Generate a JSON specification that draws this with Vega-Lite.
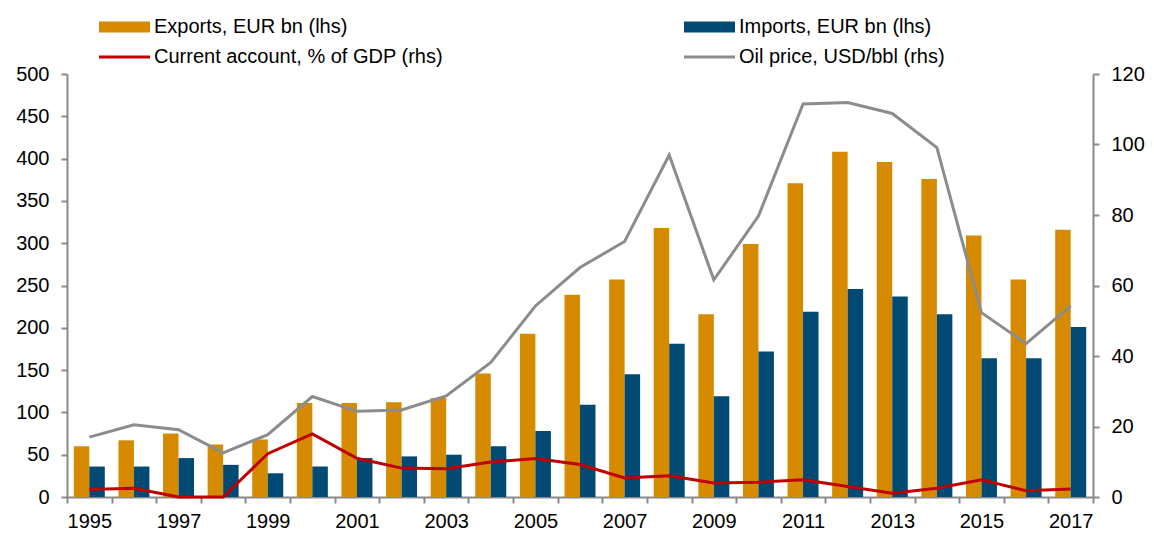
{
  "$schema": "https://vega.github.io/schema/vega-lite/v6.json",
  "width": 1026,
  "height": 423,
  "autosize": {"type": "none"},
  "padding": {"left": 67, "top": 74, "right": 61, "bottom": 36},
  "background": "white",
  "config": {
    "view": {"stroke": null},
    "font": "Liberation Sans",
    "axis": {
      "domainColor": "#8a8a8a",
      "domainWidth": 2,
      "tickColor": "#8a8a8a",
      "tickWidth": 2,
      "tickSize": 6,
      "labelFont": "Liberation Sans",
      "labelFontSize": 20,
      "labelColor": "#000000",
      "grid": false,
      "title": null
    }
  },
  "data": {
    "values": [
      {"year": 1995, "exports": 60, "imports": 36, "ca": 2.1, "oil": 17.0},
      {"year": 1996, "exports": 67, "imports": 36, "ca": 2.5, "oil": 20.5},
      {"year": 1997, "exports": 75, "imports": 46, "ca": 0.0, "oil": 19.1},
      {"year": 1998, "exports": 62, "imports": 38, "ca": 0.0, "oil": 12.5},
      {"year": 1999, "exports": 68, "imports": 28, "ca": 12.3, "oil": 17.7},
      {"year": 2000, "exports": 111, "imports": 36, "ca": 17.9, "oil": 28.5},
      {"year": 2001, "exports": 111, "imports": 46, "ca": 11.0, "oil": 24.3},
      {"year": 2002, "exports": 112, "imports": 48, "ca": 8.2, "oil": 24.7},
      {"year": 2003, "exports": 117, "imports": 50, "ca": 8.0, "oil": 28.7},
      {"year": 2004, "exports": 146, "imports": 60, "ca": 9.9, "oil": 38.2},
      {"year": 2005, "exports": 193, "imports": 78, "ca": 10.9, "oil": 54.2},
      {"year": 2006, "exports": 239, "imports": 109, "ca": 9.2, "oil": 65.1},
      {"year": 2007, "exports": 257, "imports": 145, "ca": 5.4, "oil": 72.5},
      {"year": 2008, "exports": 318, "imports": 181, "ca": 6.0, "oil": 97.0},
      {"year": 2009, "exports": 216, "imports": 119, "ca": 4.0, "oil": 61.6},
      {"year": 2010, "exports": 299, "imports": 172, "ca": 4.2, "oil": 79.7},
      {"year": 2011, "exports": 371, "imports": 219, "ca": 4.9, "oil": 111.5},
      {"year": 2012, "exports": 408, "imports": 246, "ca": 3.0, "oil": 111.9},
      {"year": 2013, "exports": 396, "imports": 237, "ca": 1.1, "oil": 108.8},
      {"year": 2014, "exports": 376, "imports": 216, "ca": 2.5, "oil": 99.1},
      {"year": 2015, "exports": 309, "imports": 164, "ca": 4.9, "oil": 52.3},
      {"year": 2016, "exports": 257, "imports": 164, "ca": 1.8, "oil": 43.5},
      {"year": 2017, "exports": 316, "imports": 201, "ca": 2.3, "oil": 54.2}
    ]
  },
  "encoding": {
    "x": {
      "field": "year",
      "type": "ordinal",
      "scale": {"paddingInner": 0, "paddingOuter": 0},
      "axis": {
        "labelAngle": 0,
        "tickBand": "extent",
        "labelPadding": 8,
        "zindex": 0,
        "labelExpr": "datum.value % 2 == 1 ? datum.label : ''"
      }
    }
  },
  "layer": [
    {
      "transform": [{"fold": ["exports", "imports"], "as": ["series", "value"]}],
      "mark": {"type": "bar"},
      "encoding": {
        "xOffset": {
          "field": "series",
          "type": "nominal",
          "scale": {"domain": ["exports", "imports"], "paddingInner": 0, "paddingOuter": 0.44}
        },
        "y": {
          "field": "value",
          "type": "quantitative",
          "scale": {"domain": [0, 500]},
          "axis": {"orient": "left", "values": [0, 50, 100, 150, 200, 250, 300, 350, 400, 450, 500], "labelPadding": 12}
        },
        "color": {
          "field": "series",
          "type": "nominal",
          "scale": {
            "domain": ["exports", "ca", "imports", "oil"],
            "range": ["#D68A00", "#C00000", "#004A73", "#8C8C8C"]
          },
          "legend": {
            "orient": "none",
            "legendX": 30,
            "legendY": -57,
            "columns": 2,
            "columnPadding": 235,
            "rowPadding": 10,
            "title": null,
            "symbolSize": 100,
            "labelFontSize": 20,
            "labelFont": "Liberation Sans",
            "labelColor": "#000000",
            "labelLimit": 500,
            "labelOffset": 37,
            "labelExpr": "datum.label == 'exports' ? 'Exports, EUR bn (lhs)' : datum.label == 'imports' ? 'Imports, EUR bn (lhs)' : datum.label == 'ca' ? 'Current account, % of GDP (rhs)' : 'Oil price, USD/bbl (rhs)'",
            "encode": {
              "symbols": {
                "update": {
                  "shape": {"signal": "(datum.value == 'exports' || datum.value == 'imports') ? 'M-1.6,-1.1H8.6V1.1H-1.6Z' : 'M-1.6,0H8.6'"},
                  "fill": {"signal": "(datum.value == 'exports' || datum.value == 'imports') ? scale('color', datum.value) : 'transparent'"},
                  "stroke": {"signal": "(datum.value == 'ca' || datum.value == 'oil') ? scale('color', datum.value) : 'transparent'"},
                  "strokeWidth": {"signal": "(datum.value == 'ca' || datum.value == 'oil') ? 3 : 0"},
                  "opacity": {"value": 1}
                }
              }
            }
          }
        }
      }
    },
    {
      "transform": [{"fold": ["oil", "ca"], "as": ["series", "value"]}],
      "mark": {"type": "line", "strokeWidth": 3},
      "encoding": {
        "y": {
          "field": "value",
          "type": "quantitative",
          "scale": {"domain": [0, 120]},
          "axis": {"orient": "right", "values": [0, 20, 40, 60, 80, 100, 120], "labelPadding": 12}
        },
        "color": {"field": "series", "type": "nominal"}
      }
    }
  ],
  "resolve": {"scale": {"y": "independent"}}
}
